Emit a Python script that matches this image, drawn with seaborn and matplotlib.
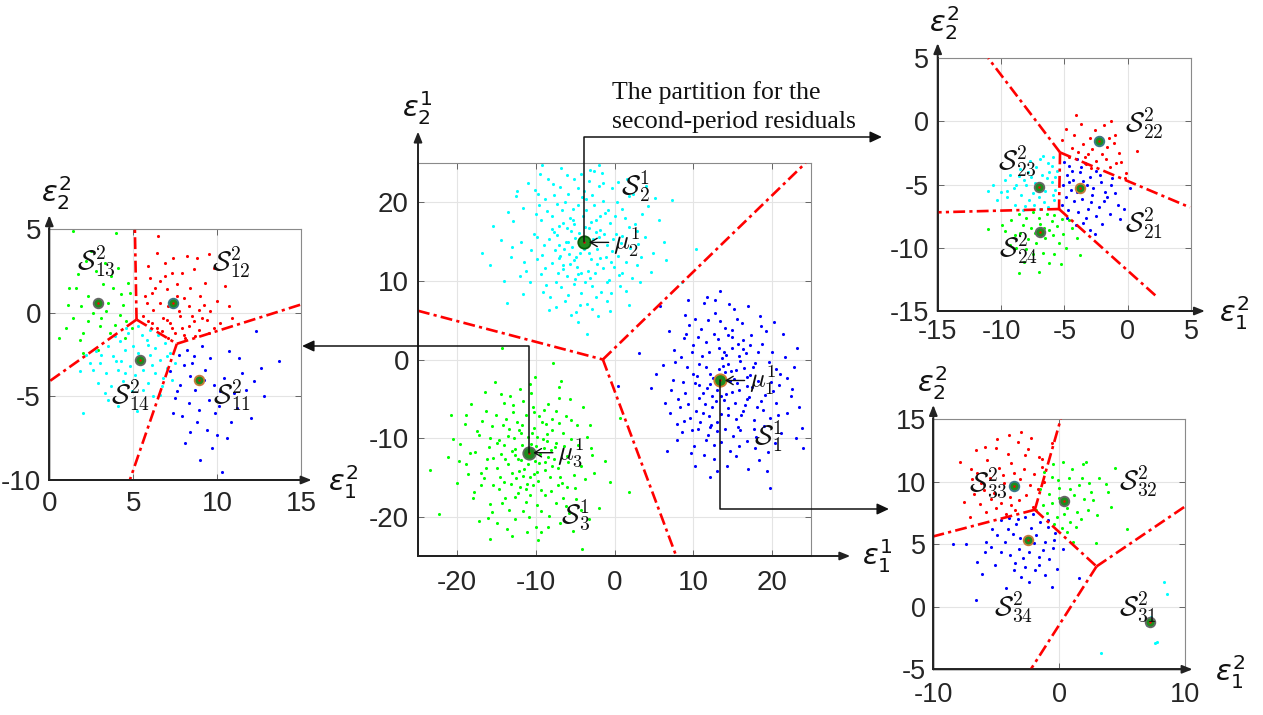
import matplotlib
matplotlib.use("Agg")
import matplotlib.pyplot as plt
import pandas as pd
import seaborn as sns

# ------------------------------------------------------------------ data
# first-period residual clusters (main panel)
main_S2 = [(-12.4,21.4),(-16.9,13.6),(-9.2,24.8),(-2.0,24.8),(7.3,20.3),(10.4,14.1),(-3.5,3.2),(-13.7,7.2),
    (-5.1,17.2),(-3.0,12.8),(-6.4,14.1),(-1.8,16.5),(-4.7,10.9),(-7.9,18.3),(0.5,13.2),(-2.6,19.6),
    (-8.8,11.7),(-5.9,21.0),(1.9,16.9),(-4.2,8.4),(-10.3,16.0),(-0.7,10.1),(-6.8,9.2),(2.8,12.0),
    (-3.3,22.7),(-11.5,12.4),(-1.2,18.7),(-7.3,15.8),(0.9,19.2),(-5.6,12.2),(-9.6,19.7),(-2.2,14.0),
    (3.9,15.6),(-4.9,6.1),(-8.2,7.9),(-0.3,21.8),(-6.1,23.5),(1.4,8.7),(-12.9,17.6),(-3.8,16.9),
    (-5.3,19.1),(-1.5,11.6),(-7.0,12.9),(4.6,11.1),(-2.9,9.3),(-9.0,14.6),(0.2,16.0),(-6.6,17.4),
    (-4.4,13.5),(-3.1,24.1),(-10.8,9.8),(2.3,21.0),(-7.7,20.9),(-0.9,7.4),(-5.0,15.5),(5.6,17.8),
    (-14.5,15.2),(-2.4,17.8),(-8.5,23.0),(1.0,11.0),(-6.0,10.6),(-3.6,20.4),(-11.7,19.3),(3.2,9.8),
    (-4.6,4.8),(-1.0,14.6),(-7.5,6.7),(-2.0,22.1),(-9.9,12.8),(0.0,18.3),(-5.8,13.4),(-3.4,11.2),
    (-12.0,10.6),(4.2,19.5),(-6.9,21.9),(-0.5,12.4),(-8.0,16.6),(2.0,14.2),(-4.0,18.2),(-10.1,21.6),
    (-1.7,8.6),(-6.3,7.5),(1.6,23.0),(-5.5,16.4),(-2.7,15.3),(-13.2,13.1),(0.7,9.4),(-7.2,11.0),
    (-3.9,21.5),(-9.3,17.8),(3.4,13.0),(-4.8,11.8),(-1.4,20.2),(-6.7,19.0),(-15.4,17.0),(6.3,15.0),
    (-2.1,5.5),(-8.7,9.5),(0.4,22.6),(-5.2,9.6),(-3.2,13.6),(-11.0,22.4),(1.8,6.9),(-7.6,13.9),
    (-4.3,23.6),(-0.2,15.3),(-9.4,10.9),(2.6,17.3),(-6.2,15.0),(-1.9,12.9),(8.6,9.8),(-14.0,10.0),
    (-5.4,14.3),(-2.3,16.2),(-6.9,13.2),(-3.7,9.9),(-0.6,17.4),(-8.3,15.3),(-4.1,20.7),(-1.1,13.0),(-9.8,15.6),(0.8,14.8),
    (-5.7,18.0),(-3.5,7.0),(-7.1,17.0),(-2.5,11.0),(1.3,18.0),(-4.5,16.1),(-6.5,11.5),(-10.6,13.9),(-0.1,11.8),(-8.9,20.4),
    (-3.0,17.5),(-5.1,23.0),(2.9,16.3),(-11.9,15.0),(-1.6,23.7),(-7.4,9.9),(-4.9,13.0),(-2.8,20.9),(0.3,20.0),(-6.0,16.7),
    (-13.6,18.8),(-0.4,8.5),(-8.0,12.3),(-3.3,15.0),(4.9,13.6),(-5.9,8.2),(-1.3,16.0),(-9.1,8.6),(1.5,12.4),(-4.6,21.8),
    (-7.8,22.3),(-2.9,6.4),(-11.3,11.2),(3.5,18.5),(-6.3,20.0),(-0.8,19.0),(-5.0,10.3),(-2.2,12.2),(-9.5,23.6),(0.9,15.7),
    (-3.9,14.0),(-7.0,14.6),(2.2,10.4),(-12.5,20.8),(-4.2,11.0),(-1.9,18.2),(-8.6,18.9),(-5.5,5.7),(5.2,20.6),(-2.6,24.0),
    (-10.0,18.5),(-6.6,12.0),(-0.3,13.8),(-3.6,19.0),(1.9,20.8),(-7.7,16.2),(-4.4,6.9),(-15.8,12.0),(-1.0,9.8),(-5.3,17.7),
    (3.0,14.7),(-9.2,13.3),(-2.4,8.0),(-6.8,24.4),(0.6,10.7),(-3.2,16.7),(-11.6,8.3),(-5.9,14.9),(-1.4,22.5),(6.6,12.6),
    (-8.3,6.3),(-4.7,19.6),(-2.0,15.6),(-7.3,19.8),(4.0,22.1),(-13.0,14.3),(-0.6,6.2),(-5.2,12.7),(-3.1,10.4),(-9.7,21.0)]
main_S1 = [(19.8,-16.3),(24.0,-11.2),(6.7,-11.7),(0.5,-3.4),(13.4,8.7),(5.8,6.8),(23.2,1.5),
    (12.1,-1.9),(15.0,-4.1),(10.7,-3.3),(14.2,0.6),(16.8,-2.2),(11.5,-5.7),(13.0,-7.9),(17.9,-0.4),
    (9.2,-1.0),(14.9,2.9),(12.4,-4.6),(18.6,-5.3),(8.1,-5.0),(15.7,-8.6),(10.0,1.8),(13.8,-0.8),
    (19.9,-2.9),(11.0,3.9),(16.2,4.7),(7.4,-2.6),(14.5,-6.2),(20.8,-7.0),(12.8,5.9),(9.6,-7.4),
    (17.2,1.9),(11.9,-9.6),(15.4,-1.3),(21.7,0.3),(8.8,2.7),(13.1,-3.9),(18.0,-9.8),(10.5,-2.1),
    (16.6,-5.8),(6.2,-0.7),(14.0,4.0),(19.3,3.6),(12.0,0.9),(9.9,-9.0),(17.5,-3.5),(15.9,-11.0),
    (11.2,-6.8),(22.4,-4.6),(13.6,-10.5),(7.9,-8.2),(20.5,-1.2),(10.3,5.1),(16.0,-0.2),(12.6,-12.7),
    (18.9,-6.4),(8.5,0.3),(14.7,-2.7),(21.2,-9.3),(11.7,2.2),(15.2,6.4),(9.0,-4.2),(17.7,-7.7),
    (13.3,1.5),(19.5,-11.8),(6.9,3.6),(12.3,-8.3),(16.4,2.5),(10.8,-0.6),(23.5,-6.0),(14.3,-13.5),
    (8.3,-6.1),(18.3,0.9),(11.4,7.2),(15.6,-3.0),(20.2,-4.0),(9.5,4.4),(13.9,-5.2),(17.0,-13.9),
    (12.7,3.3),(22.0,-2.4),(7.2,-3.9),(15.1,-9.7),(10.1,-11.0),(18.5,5.5),(14.1,-1.6),(16.9,-10.4),
    (5.3,-1.9),(19.0,-8.5),(11.8,-3.6),(21.5,3.2),(13.5,-6.9),(9.3,7.6),(17.3,-2.0),(3.1,0.8),
    (12.2,-15.0),(23.8,-8.7),(15.8,0.4),(10.6,-8.8),(20.0,1.0),(8.0,-10.3),(14.6,7.0),(16.3,-6.6),
    (12.5,-2.4),(14.8,-1.5),(11.3,-4.3),(15.9,-3.9),(13.7,0.2),(10.2,-3.0),(16.5,-1.1),(12.9,-5.3),(14.4,-7.1),(18.2,-2.7),
    (9.8,0.9),(13.2,2.6),(17.1,-4.8),(11.6,-1.0),(15.3,-5.5),(8.7,-2.9),(19.6,-0.3),(12.0,-7.2),(14.9,1.4),(10.9,-8.0),
    (16.7,0.8),(13.0,-9.1),(20.9,-3.3),(11.1,0.4),(17.8,-8.9),(9.4,-5.6),(15.0,3.8),(12.6,-10.9),(18.8,2.0),(7.6,1.2),
    (14.2,-4.4),(21.9,-6.8),(10.4,-6.5),(16.1,-7.0),(13.4,4.9),(8.6,-9.2),(19.1,-4.5),(11.9,5.0),(15.5,-12.3),(22.8,-0.9),
    (12.2,-3.1),(17.4,3.1),(9.7,-11.9),(14.0,-8.9),(20.4,-10.6),(6.4,-5.5),(13.9,1.0),(16.9,-5.0),(10.6,2.8),(18.4,-12.8),
    (11.4,-12.1),(15.6,5.2),(7.7,-0.3),(19.8,-7.5),(13.1,-14.2),(21.0,-1.9),(12.8,7.6),(16.0,-9.0),(9.1,3.3),(17.9,-11.3),
    (14.5,-0.6),(10.8,-4.9),(22.6,-3.8),(15.2,-2.5),(11.8,8.0),(8.9,-7.8),(18.7,4.3),(13.6,-4.7),(20.6,-5.5),(16.3,1.3),
    (12.4,-6.0),(4.6,-3.6),(17.6,-0.9),(14.7,-11.6),(10.0,-1.8),(19.4,-14.2),(15.7,2.0),(11.6,-10.2),(23.1,-10.0),(13.3,-1.2),
    (9.0,5.6),(16.8,-3.4),(12.1,-8.6),(18.1,-6.1),(7.0,-6.8),(14.4,3.1),(20.3,4.8),(10.3,-13.6),(15.4,-7.6),(17.0,6.8)]
main_S3 = [(-23.5,-14.1),(-22.3,-19.6),(-15.9,-22.8),(-4.1,-24.1),(1.8,-16.8),(-14.3,1.4),(-7.8,-0.5),(-20.8,-7.0),(0.7,-7.5),
    (-11.8,-10.9),(-9.6,-13.2),(-13.0,-14.4),(-10.2,-8.7),(-8.1,-11.5),(-14.7,-10.2),(-12.3,-17.0),(-6.9,-14.9),
    (-16.2,-12.6),(-9.0,-6.4),(-11.1,-15.8),(-5.5,-10.1),(-13.8,-7.6),(-7.4,-18.2),(-17.5,-9.1),(-10.6,-4.3),
    (-12.7,-12.1),(-4.3,-13.6),(-15.4,-16.0),(-8.6,-9.5),(-18.9,-13.3),(-10.9,-20.0),(-6.2,-7.2),(-14.1,-5.5),
    (-9.3,-16.6),(-3.0,-11.3),(-16.8,-7.8),(-11.5,-13.9),(-7.7,-12.7),(-13.4,-19.1),(-5.0,-16.4),(-19.6,-10.8),
    (-10.0,-11.0),(-12.0,-3.8),(-8.4,-21.3),(-15.0,-13.8),(-6.6,-9.3),(-17.9,-16.9),(-11.3,-7.0),(-2.6,-14.4),
    (-13.6,-9.7),(-9.8,-18.5),(-7.0,-4.9),(-16.0,-11.1),(-4.8,-8.3),(-12.5,-15.1),(-20.1,-15.7),(-8.9,-14.0),
    (-14.9,-20.8),(-10.4,-6.1),(-5.8,-19.5),(-18.2,-5.6),(-11.9,-12.8),(-7.2,-16.0),(-3.5,-9.8),(-15.6,-8.5),
    (-9.1,-10.1),(-13.1,-22.4),(-6.0,-12.3),(-17.0,-14.5),(-10.7,-17.3),(-1.2,-12.9),(-14.4,-12.0),(-8.0,-7.6),
    (-12.2,-9.0),(-5.3,-21.8),(-19.0,-8.2),(-10.1,-2.2),(-7.9,-13.6),(-15.8,-18.4),(-11.6,-19.3),(-4.0,-6.0),
    (-13.3,-4.6),(-9.5,-12.0),(-21.2,-12.4),(-6.5,-17.6),(-16.5,-4.1),(-11.0,-9.9),(-2.0,-18.9),(-8.3,-19.9),
    (-14.0,-15.6),(-12.9,-6.7),(-7.5,-10.6),(-17.3,-20.6),(-10.3,-14.6),(-5.7,-5.0),(-15.2,-2.9),(-9.7,-23.0),
    (-3.3,-20.3),(-12.6,-11.4),(-18.4,-11.9),(-6.8,-2.7),(-11.2,-16.5),(-8.7,-8.2),
    (-11.4,-11.5),(-9.9,-14.3),(-12.8,-10.0),(-8.4,-12.4),(-13.5,-13.3),(-10.5,-9.4),(-7.2,-13.8),(-14.6,-14.9),(-12.0,-16.2),(-9.2,-8.0),
    (-15.9,-10.0),(-6.4,-11.0),(-11.7,-5.3),(-13.9,-17.6),(-8.8,-17.3),(-16.6,-15.1),(-10.1,-12.9),(-5.1,-14.7),(-12.4,-7.9),(-17.7,-11.8),
    (-7.9,-9.0),(-14.2,-8.3),(-9.4,-19.3),(-11.0,-13.3),(-4.6,-10.9),(-18.6,-14.6),(-13.0,-11.7),(-6.7,-15.7),(-10.8,-3.1),(-15.4,-12.5),
    (-8.2,-14.9),(-12.7,-20.3),(-3.8,-15.2),(-16.3,-6.6),(-10.4,-16.0),(-7.0,-8.1),(-14.7,-16.5),(-9.0,-11.2),(-19.8,-12.9),(-11.8,-8.3),
    (-5.9,-13.0),(-13.2,-15.9),(-8.5,-5.6),(-17.2,-9.6),(-10.0,-21.3),(-12.1,-14.2),(-6.2,-18.7),(-15.1,-7.1),(-9.7,-15.4),(-2.8,-12.2),
    (-14.0,-10.9),(-11.3,-18.1),(-7.6,-11.1),(-18.0,-17.6),(-12.9,-5.8),(-4.9,-17.8),(-10.6,-10.7),(-16.4,-13.8),(-8.1,-16.7),(-13.7,-21.6),
    (-9.6,-7.2),(-6.9,-20.8),(-15.6,-19.4),(-11.6,-14.8),(-3.1,-8.3),(-20.6,-10.1),(-12.3,-12.6),(-7.4,-6.6),(-14.5,-4.4),(-9.9,-9.9),
    (-17.0,-16.0),(-5.5,-7.7),(-11.1,-22.0),(-13.4,-8.9),(-8.9,-13.1),(-0.6,-15.6),(-15.0,-10.6),(-10.2,-6.7),(-6.0,-16.2),(-12.6,-17.5),
    (-18.9,-7.0),(-9.3,-21.9),(-13.9,-12.7),(-7.1,-3.5),(-11.9,-9.4),(-4.2,-19.2),(-16.1,-20.2),(-10.7,-15.0),(-8.6,-10.4),(-14.3,-18.2)]
main_centroids = [(13.45,-2.67), (-3.85,14.9), (-10.94,-11.86)]   # mu_1, mu_2, mu_3
main_edges = [((-25,6.2),(-1.48,0)), ((-1.48,0),(24.3,25)), ((-1.48,0),(7.85,-25))]

# second-period partition of S_1^1 (left panel)
left_S11 = [(13.7,-2.9),(12.3,-1.1),(10.3,-9.5),(12.8,-5.0),(12.0,-6.3),(8.2,-2.2),(8.6,-2.6),(9.1,-2.0),(8.0,-3.1),
    (8.4,-3.8),(9.3,-3.4),(9.8,-4.3),(10.4,-3.9),(8.7,-4.6),(7.8,-4.3),(7.5,-5.1),(8.3,-5.4),(9.5,-5.2),(10.1,-5.6),
    (11.0,-4.8),(11.5,-3.6),(11.3,-2.7),(10.7,-2.3),(7.9,-6.2),(8.8,-6.5),(9.4,-7.0),(10.0,-7.3),(10.6,-7.5),(8.4,-7.1),
    (7.6,-4.7),(11.7,-4.6),(9.9,-6.0),(12.6,-3.3),(7.2,-3.5),(9.0,-8.8),
    (8.5,-3.0),(9.6,-2.7),(10.2,-4.7),(8.9,-5.8),(7.7,-2.5),(10.8,-6.5),(9.2,-4.0),(11.2,-5.7),(8.1,-7.8),(9.7,-8.1),
    (12.2,-4.1),(7.4,-6.0)]
left_S12 = [(6.5,4.6),(9.5,3.5),(10.7,0.4),(6.0,2.1),(6.6,1.9),(7.0,1.4),(7.6,1.7),(8.0,0.9),(8.6,2.6),(8.8,3.3),
    (5.7,1.0),(6.2,0.2),(6.8,-0.3),(7.2,-0.6),(7.8,-0.2),(8.3,-0.8),(8.9,-1.0),(9.4,-0.4),(7.5,-1.2),(8.1,-1.5),
    (9.2,0.5),(9.8,-0.9),(6.4,-0.9),(5.6,-0.2),(7.1,0.4),(8.4,1.5),(9.0,1.0),(6.9,3.0),(5.9,2.8),(7.3,2.4),
    (10.2,-0.6),(8.5,-0.2),(7.9,-0.9),(6.7,-1.1),(9.6,0.1),(5.8,0.6),(7.4,3.3),(8.2,3.4),(6.3,1.5),(10.5,1.6),
    (7.0,-0.4),(8.7,-1.4),(6.1,-0.6),(9.1,-0.3),(7.7,0.1),
    (6.1,1.2),(7.9,2.4),(8.9,0.2),(6.6,0.6),(7.3,-0.9),(8.0,-1.3),(9.5,-1.2),(6.9,2.2),(8.3,0.4),(10.0,0.7),
    (5.9,-0.5),(7.6,1.0),(9.3,1.8),(6.4,3.6),(8.6,-0.5),(7.1,-1.5),(10.9,-0.3),(9.8,2.7)]
left_S13 = [(1.4,4.9),(4.0,4.8),(2.0,-2.4),(1.8,-1.6),(1.2,1.5),(1.6,1.5),(2.3,1.0),(3.2,1.7),(3.5,0.6),(3.8,1.5),
    (4.2,-0.1),(2.6,0.0),(3.0,-0.8),(4.4,0.5),(3.3,3.0),(4.1,2.7),(1.9,0.4),(2.8,2.5),(4.8,1.2),(4.9,-0.9),
    (3.6,-1.2),(2.3,-0.5),(1.0,-0.9),(3.9,-0.7),(4.5,-1.5),(2.5,3.7),(1.4,-0.3),(3.4,0.1),(4.7,1.8),(0.6,-1.5),(2.9,-2.2),
    (1.7,2.3),(2.2,3.1),(3.7,2.2),(3.1,-0.3),(4.3,1.1),(2.0,-1.2),(1.1,0.5),(4.6,-0.5)]
left_S14 = [(5.3,-0.8),(6.0,-1.0),(6.5,-1.3),(4.7,-1.2),(4.2,-1.7),(3.5,-2.0),(2.8,-2.3),(2.2,-2.5),(3.0,-3.0),(3.8,-2.6),
    (4.5,-2.2),(5.0,-2.0),(5.8,-1.6),(6.3,-2.1),(6.9,-1.8),(7.2,-2.4),(6.6,-2.8),(6.0,-2.5),(4.8,-3.2),(4.1,-3.4),
    (3.4,-3.6),(2.6,-3.4),(1.8,-3.5),(5.1,-3.7),(5.6,-3.4),(6.3,-3.6),(7.0,-3.3),(7.5,-3.0),(4.4,-4.1),(3.7,-4.4),
    (5.9,-4.2),(6.7,-4.4),(4.9,-4.7),(2.9,-4.2),(5.2,-5.9),(2.0,-6.0),(3.5,-5.2),(6.2,-5.0),(7.3,-4.0),(4.0,-2.9),
    (4.6,-0.9),(5.5,-1.3),(3.9,-1.4),(3.1,-2.5),(4.3,-2.9),(5.3,-2.4),(6.1,-3.1),(6.8,-3.9),(5.6,-4.6),(4.5,-3.6),
    (2.4,-3.0),(3.3,-4.8),(7.0,-2.6),(5.9,-1.9),(6.6,-4.9),(4.1,-5.6)]
left_centroids = [(8.9,-4.0), (7.4,0.6), (2.9,0.6), (5.4,-2.8)]
left_edges = [((5.2,-0.4),(5.1,5)), ((5.2,-0.4),(0,-4.1)), ((5.2,-0.4),(7.6,-1.85)),
              ((7.6,-1.85),(15,0.5)), ((7.6,-1.85),(4.8,-10))]

# second-period partition of S_2^1 (top-right panel)
tr_S21 = [(-5.0,-3.2),(-4.6,-3.5),(-4.0,-3.0),(-3.4,-3.3),(-4.8,-4.2),(-4.3,-4.6),(-3.8,-4.0),(-3.0,-4.4),(-2.5,-3.9),
    (-5.1,-5.0),(-4.5,-5.4),(-3.2,-5.0),(-2.7,-5.3),(-2.1,-4.8),(-1.8,-5.6),(-4.9,-6.0),(-4.2,-6.3),(-3.6,-6.1),
    (-2.9,-6.4),(-2.3,-6.8),(-1.6,-6.0),(-1.0,-5.7),(-4.7,-7.0),(-3.9,-7.2),(-3.3,-7.6),(-2.5,-7.5),(-1.4,-7.3),
    (-0.8,-6.6),(-3.0,-8.6),(-2.0,-8.1),(0.2,-5.3),(-0.3,-6.9),(-5.2,-6.6),(-4.1,-8.2),(-1.2,-4.5),
    (-4.4,-3.9),(-3.5,-4.7),(-2.8,-5.8),(-4.0,-5.6),(-3.1,-6.9),(-1.9,-6.3),(-4.6,-4.8),(-2.2,-4.2),(-3.7,-3.6),
    (-1.3,-5.0),(-4.8,-7.6),(-2.6,-8.9),(-0.6,-7.7),(-3.5,-8.0)]
tr_S22 = [(-4.1,0.5),(-1.3,0.0),(0.7,-2.3),(-5.2,-1.5),(-4.2,-1.1),(-3.5,-1.8),(-2.8,-2.2),(-3.9,-2.4),(-3.0,-1.3),
    (-2.0,-2.6),(-1.6,-2.0),(-1.1,-1.7),(-0.7,-2.5),(-2.5,-3.1),(-3.3,-3.4),(-1.4,-3.6),(-0.5,-3.2),(-0.1,-4.1),
    (-1.9,-0.3),(-2.6,-0.7),(-4.6,-2.8),(-3.7,-0.2),(-1.0,-1.1),(-2.2,-1.2),(-0.2,-4.5),(-4.4,-2.1),(-3.1,-2.6),(-1.7,-3.0),
    (-3.4,-2.8),(-2.4,-1.8),(-1.5,-1.3),(-4.9,-0.6),(-2.9,-3.7),(-0.9,-3.3)]
tr_S23 = [(-11.0,-5.5),(-9.5,-6.0),(-8.6,-4.3),(-8.0,-5.0),(-7.6,-4.4),(-7.2,-3.6),(-6.8,-4.2),(-6.3,-3.3),(-5.9,-2.8),
    (-5.6,-3.9),(-6.0,-4.8),(-6.5,-5.5),(-7.0,-6.0),(-7.8,-6.2),(-8.4,-5.8),(-9.0,-5.3),(-9.7,-4.6),(-10.3,-6.2),
    (-8.9,-6.6),(-8.1,-6.7),(-7.4,-6.6),(-6.6,-6.4),(-5.8,-6.2),(-5.7,-5.4),(-6.2,-4.0),(-6.9,-3.0),(-7.7,-3.1),
    (-8.5,-3.8),(-9.3,-4.2),(-10.0,-5.6),(-5.9,-5.8),(-6.7,-2.7),(-7.3,-4.9),(-8.2,-4.6),
    (-6.4,-4.5),(-7.1,-5.3),(-7.9,-4.0),(-8.8,-5.0),(-6.0,-3.5),(-9.5,-5.5),(-6.9,-6.9),(-8.3,-7.0),(-5.7,-4.4),
    (-10.6,-5.0),(-7.5,-5.7),(-6.3,-6.8)]
tr_S24 = [(-11.0,-8.5),(-9.7,-8.7),(-9.2,-7.8),(-8.6,-7.3),(-8.0,-7.6),(-7.5,-7.2),(-7.0,-7.6),(-6.4,-7.3),(-5.8,-7.4),
    (-5.2,-7.7),(-5.6,-8.3),(-6.2,-8.6),(-6.9,-8.1),(-7.6,-8.4),(-8.3,-8.2),(-8.9,-9.0),(-7.9,-9.3),(-7.2,-9.6),
    (-6.5,-9.2),(-5.9,-9.0),(-5.1,-8.9),(-4.4,-8.4),(-4.0,-9.2),(-3.8,-10.6),(-5.3,-11.3),(-6.2,-11.2),(-7.5,-10.5),
    (-8.2,-11.1),(-8.8,-10.0),(-8.6,-12.0),(-9.3,-9.8),(-6.7,-10.4),(-4.9,-10.0),
    (-7.3,-8.8),(-6.0,-7.9),(-8.5,-8.8),(-5.4,-9.6),(-7.0,-11.9),(-4.6,-7.8),(-9.9,-8.2),(-6.6,-8.4),(-8.0,-10.1),(-5.8,-10.5)]
tr_centroids = [(-3.8,-5.3), (-2.24,-1.56), (-7.0,-5.22), (-6.9,-8.73)]
tr_edges = [((-5.34,-2.45),(-11.0,5)), ((-5.34,-2.45),(4.92,-6.8)), ((-5.34,-2.45),(-5.42,-6.93)),
            ((-5.42,-6.93),(-15,-7.19)), ((-5.42,-6.93),(2.29,-13.86))]

# second-period partition of S_3^1 (bottom-right panel)
br_S31 = [(8.3,2.0),(8.6,1.0),(7.3,-0.8),(7.6,-2.9),(3.3,-3.7),(7.8,-2.8),(7.0,-1.5)]
br_S32 = [(-1.2,10.8),(-0.5,11.4),(0.3,11.6),(1.0,11.0),(1.9,11.4),(-0.1,10.1),(0.8,10.3),(1.6,9.7),(2.4,9.9),
    (3.2,10.3),(4.4,11.1),(3.9,9.2),(-1.5,9.4),(-0.8,9.0),(0.0,9.5),(1.2,8.9),(2.0,8.6),(2.7,8.5),(-1.3,8.1),
    (-0.6,8.3),(0.6,7.9),(1.4,7.6),(2.3,7.7),(-1.0,7.5),(-0.2,7.2),(0.9,6.8),(1.7,7.0),(0.2,6.3),(0.6,6.0),
    (1.1,5.2),(2.9,5.1),(5.4,6.2),(3.7,9.8),(-1.8,7.7),(0.4,7.4),
    (0.0,8.7),(0.9,9.4),(1.8,10.3),(-0.6,10.4),(2.5,9.2),(1.3,6.4),(-0.4,6.6),(3.0,7.3),(2.1,11.6),(4.1,8.0)]
br_S33 = [(-7.9,11.6),(-3.0,14.0),(-7.1,7.2),(-0.6,13.1),(-5.9,12.8),(-5.0,12.7),(-4.1,12.2),(-3.3,13.2),(-2.5,12.6),
    (-1.6,12.0),(-6.5,10.7),(-5.5,10.3),(-4.8,11.1),(-3.8,11.5),(-2.8,11.0),(-2.0,10.6),(-1.4,11.2),(-6.8,9.0),
    (-6.0,9.3),(-5.2,9.1),(-4.4,9.9),(-3.1,10.2),(-2.3,9.7),(-1.7,9.4),(-6.3,8.2),(-5.4,8.6),(-4.6,8.3),(-3.9,8.8),
    (-3.2,8.5),(-2.6,8.9),(-2.1,8.0),(-7.6,8.4),(-4.2,7.4),(-3.5,7.7),(-5.8,7.6),(-6.9,10.2),(-1.2,10.0),(-4.9,13.4),
    (-3.6,10.7),(-2.0,7.9),
    (-4.5,10.5),(-5.7,11.7),(-2.7,12.1),(-3.4,9.4),(-6.2,9.9),(-4.0,13.7),(-2.2,13.5),(-5.0,7.9),(-7.0,11.0),
    (-3.8,8.1),(-1.4,11.8),(-6.6,12.5)]
br_S34 = [(-8.4,5.0),(-6.6,0.5),(-0.6,1.6),(1.6,2.3),(-6.5,3.6),(-5.8,5.2),(-5.3,6.2),(-4.6,6.9),(-4.0,7.1),(-3.4,6.6),
    (-2.7,7.2),(-2.1,7.4),(-1.5,6.8),(-0.9,6.4),(-0.3,5.9),(-4.9,5.7),(-4.3,5.2),(-3.7,5.8),(-3.1,5.5),(-1.8,5.7),
    (-1.1,5.2),(-0.5,4.7),(-4.6,4.4),(-3.9,4.1),(-3.2,4.6),(-2.4,4.4),(-1.6,4.0),(-0.8,3.8),(-5.1,3.3),(-3.5,3.5),
    (-2.7,3.2),(-1.9,2.9),(-3.0,2.4),(-1.1,2.5),(-4.2,1.5),(-0.2,3.0),(-7.4,5.0),(-5.9,4.4),(-2.2,6.3),(0.3,4.6),
    (-3.3,7.0),(-2.0,5.1),(-1.3,4.5),(-4.1,6.2),(-2.9,3.9),(-0.4,5.3),(-5.4,4.8),(-3.6,2.9),(-1.6,3.3),(-2.4,2.0),
    (-6.1,2.6),(-0.9,6.9)]
br_centroids = [(7.2,-1.22), (0.37,8.41), (-3.62,9.61), (-2.46,5.3)]
br_edges = [((-1.93,7.75),(0.13,15)), ((-1.93,7.75),(-10,5.62)), ((-1.93,7.75),(2.97,3.22)),
            ((2.97,3.22),(10,8.01)), ((2.97,3.22),(-2.25,-5))]

note_lines = ["The partition for the", "second-period residuals"]

# ------------------------------------------------------------------ style
sns.set_theme(style="white")
plt.rcParams["font.family"] = ["Liberation Sans", "DejaVu Sans"]
plt.rcParams["axes.unicode_minus"] = False

W, H = 1263, 715
fig = plt.figure(figsize=(W / 100, H / 100), dpi=100)


def px(x, y):
    return (x / W, 1 - y / H)


def make_axes(l, t, r, b):
    return fig.add_axes([l / W, 1 - b / H, (r - l) / W, (b - t) / H])


CY, BL, GR, RD = "#00ffff", "#0000ff", "#00ff00", "#ff0000"
DASHDOT = (0, (4.5, 1.6, 1.2, 1.6))


def style(ax, xlim, ylim, xt, yt, fs, xpad, ypad, up, right):
    ax.set_xlim(*xlim)
    ax.set_ylim(*ylim)
    ax.set_xticks(xt)
    ax.set_yticks(yt)
    ax.set_xticklabels([str(v) for v in xt])
    ax.set_yticklabels([str(v) for v in yt])
    ax.grid(True, color="#e4e4e4", lw=0.8)
    ax.set_axisbelow(True)
    ax.tick_params(direction="in", length=4, width=0.7, colors="#666666",
                   labelcolor="#262626", labelsize=fs, top=True, right=True,
                   bottom=True, left=True)
    ax.tick_params(axis="x", pad=xpad)
    ax.tick_params(axis="y", pad=ypad)
    for s in ["top", "right"]:
        ax.spines[s].set_color("#8a8a8a")
        ax.spines[s].set_linewidth(0.8)
    for s in ["left", "bottom"]:
        ax.spines[s].set_color("#333333")
        ax.spines[s].set_linewidth(1.4)
    ax.set_xlabel("")
    ax.set_ylabel("")
    ap = dict(arrowstyle="-|>,head_length=0.55,head_width=0.22", color="#222222",
              lw=1.4, shrinkA=0, shrinkB=0, mutation_scale=11)
    ax.annotate("", xy=(0, up), xycoords="axes fraction", xytext=(0, 0),
                arrowprops=ap, annotation_clip=False)
    ax.annotate("", xy=(right, 0), xycoords="axes fraction", xytext=(0, 0),
                arrowprops=ap, annotation_clip=False)


def scatter_clusters(ax, clusters):
    for pts, col in clusters:
        df = pd.DataFrame(pts, columns=["x", "y"])
        sns.scatterplot(data=df, x="x", y="y", color=col, s=5, linewidth=0,
                        ax=ax, legend=False, zorder=2)


def edges(ax, segs):
    for (x0, y0), (x1, y1) in segs:
        ax.plot([x0, x1], [y0, y1], color=RD, lw=1.9, ls=DASHDOT, zorder=3,
                solid_capstyle="butt", dash_capstyle="butt")


def centroids(ax, cents, size, edgecols):
    for (cx, cy), ec in zip(cents, edgecols):
        ax.scatter([cx], [cy], s=size, color="#1e8c1e", edgecolors=ec,
                   linewidths=1.3, zorder=5)
        ax.scatter([cx], [cy], s=3, color=RD, linewidths=0, zorder=6)


def eps_label(x, y, sub, sup, fs=21):
    fig.text(*px(x, y), r"$\varepsilon_{%s}^{%s}$" % (sub, sup), fontsize=fs,
             ha="center", va="center", math_fontfamily="dejavusans",
             color="#111111")


def s_label(ax, x, y, txt, fs=20):
    ax.text(x, y, txt, fontsize=fs, ha="center", va="center",
            math_fontfamily="cm", color="#111111", zorder=7)


# ---------------------------------------------------------- left panel
axL = make_axes(49.3, 229.3, 301, 480)
scatter_clusters(axL, [(left_S11, BL), (left_S12, RD), (left_S13, GR), (left_S14, CY)])
edges(axL, left_edges)
centroids(axL, left_centroids, 48, ["#c8783a", "#3a7a8a", "#666666", "#666666"])
style(axL, (0, 15), (-10, 5), [0, 5, 10, 15], [-10, -5, 0, 5], 20, 8, 6, 1.056, 1.042)
s_label(axL, 2.83, 3.06, r"$\mathcal{S}_{13}^{2}$")
s_label(axL, 10.86, 3.06, r"$\mathcal{S}_{12}^{2}$")
s_label(axL, 4.82, -4.94, r"$\mathcal{S}_{14}^{2}$")
s_label(axL, 10.86, -4.94, r"$\mathcal{S}_{11}^{2}$")
eps_label(56, 193, 2, 2)
eps_label(343, 482, 1, 2)

# ---------------------------------------------------------- top-right panel
axT = make_axes(937.7, 58.3, 1191, 311)
scatter_clusters(axT, [(tr_S21, BL), (tr_S22, RD), (tr_S23, CY), (tr_S24, GR)])
edges(axT, tr_edges)
centroids(axT, tr_centroids, 48, ["#c8783a", "#3a7a8a", "#666666", "#666666"])
style(axT, (-15, 5), (-15, 5), [-15, -10, -5, 0, 5], [-15, -10, -5, 0, 5], 19.5, 6, 6.5, 1.06, 1.055)
s_label(axT, 1.29, -0.16, r"$\mathcal{S}_{22}^{2}$")
s_label(axT, -8.71, -3.19, r"$\mathcal{S}_{23}^{2}$")
s_label(axT, 1.29, -8.07, r"$\mathcal{S}_{21}^{2}$")
s_label(axT, -8.63, -10.04, r"$\mathcal{S}_{24}^{2}$")
eps_label(944, 23, 2, 2)
eps_label(1234, 313, 1, 2)

# ---------------------------------------------------------- bottom-right panel
axB = make_axes(933.3, 419, 1185, 669.3)
scatter_clusters(axB, [(br_S31, CY), (br_S32, GR), (br_S33, RD), (br_S34, BL)])
edges(axB, br_edges)
centroids(axB, br_centroids, 48, ["#666666", "#666666", "#3a7a8a", "#c8783a"])
style(axB, (-10, 10), (-5, 15), [-10, 0, 10], [-5, 0, 5, 10, 15], 19.5, 9, 5.5, 1.056, 1.03)
s_label(axB, -5.63, 9.88, r"$\mathcal{S}_{33}^{2}$")
s_label(axB, 6.27, 10.0, r"$\mathcal{S}_{32}^{2}$")
s_label(axB, -3.65, -0.1, r"$\mathcal{S}_{34}^{2}$")
s_label(axB, 6.27, -0.1, r"$\mathcal{S}_{31}^{2}$")
eps_label(932, 383, 2, 2)
eps_label(1230, 672, 1, 2)

# ---------------------------------------------------------- main panel
axM = make_axes(418, 163, 811, 556)
scatter_clusters(axM, [(main_S1, BL), (main_S2, CY), (main_S3, GR)])
edges(axM, main_edges)
centroids(axM, main_centroids, 80, ["#d07a30", "#0b5e0b", "#5a6a5a"])
style(axM, (-25, 25), (-25, 25), [-20, -10, 0, 10, 20], [-20, -10, 0, 10, 20], 20, 10, 6.5, 1.08, 1.1)
s_label(axM, 2.6, 22.0, r"$\mathcal{S}_{2}^{1}$")
s_label(axM, 19.6, -9.75, r"$\mathcal{S}_{1}^{1}$")
s_label(axM, -5.0, -19.9, r"$\mathcal{S}_{3}^{1}$")
for (cx, cy), lab in zip(main_centroids, [r"$\mu_{1}^{1}$", r"$\mu_{2}^{1}$", r"$\mu_{3}^{1}$"]):
    axM.annotate("", xy=(cx + 0.6, cy), xytext=(cx + 3.1, cy),
                 arrowprops=dict(arrowstyle="->,head_length=0.5,head_width=0.3",
                                 color="#111111", lw=1.0, shrinkA=0, shrinkB=0,
                                 mutation_scale=10), zorder=7)
    axM.text(cx + 3.6, cy, lab, fontsize=19, ha="left", va="center",
             math_fontfamily="cm", color="#111111", zorder=7)
eps_label(417, 108, 2, 1)
eps_label(877, 556, 1, 1)

# connectors from first-period centroids to the second-period panels
conn = dict(arrowstyle="-|>,head_length=0.6,head_width=0.28", color="#111111",
            lw=1.1, shrinkA=0, shrinkB=0, mutation_scale=12,
            connectionstyle="angle,angleA=90,angleB=0,rad=0")
for (cx, cy), tip in zip(main_centroids, [(889, 509), (882, 137), (302, 346)]):
    axM.annotate("", xy=px(*tip), xycoords="figure fraction", xytext=(cx, cy),
                 textcoords="data", arrowprops=conn, annotation_clip=False,
                 zorder=8)

fig.text(*px(612, 93), note_lines[0], fontsize=18.5, family="Liberation Serif",
         ha="left", va="center", color="#111111")
fig.text(*px(612, 122), note_lines[1], fontsize=18.5, family="Liberation Serif",
         ha="left", va="center", color="#111111")

fig.savefig("out.png", dpi=100)
